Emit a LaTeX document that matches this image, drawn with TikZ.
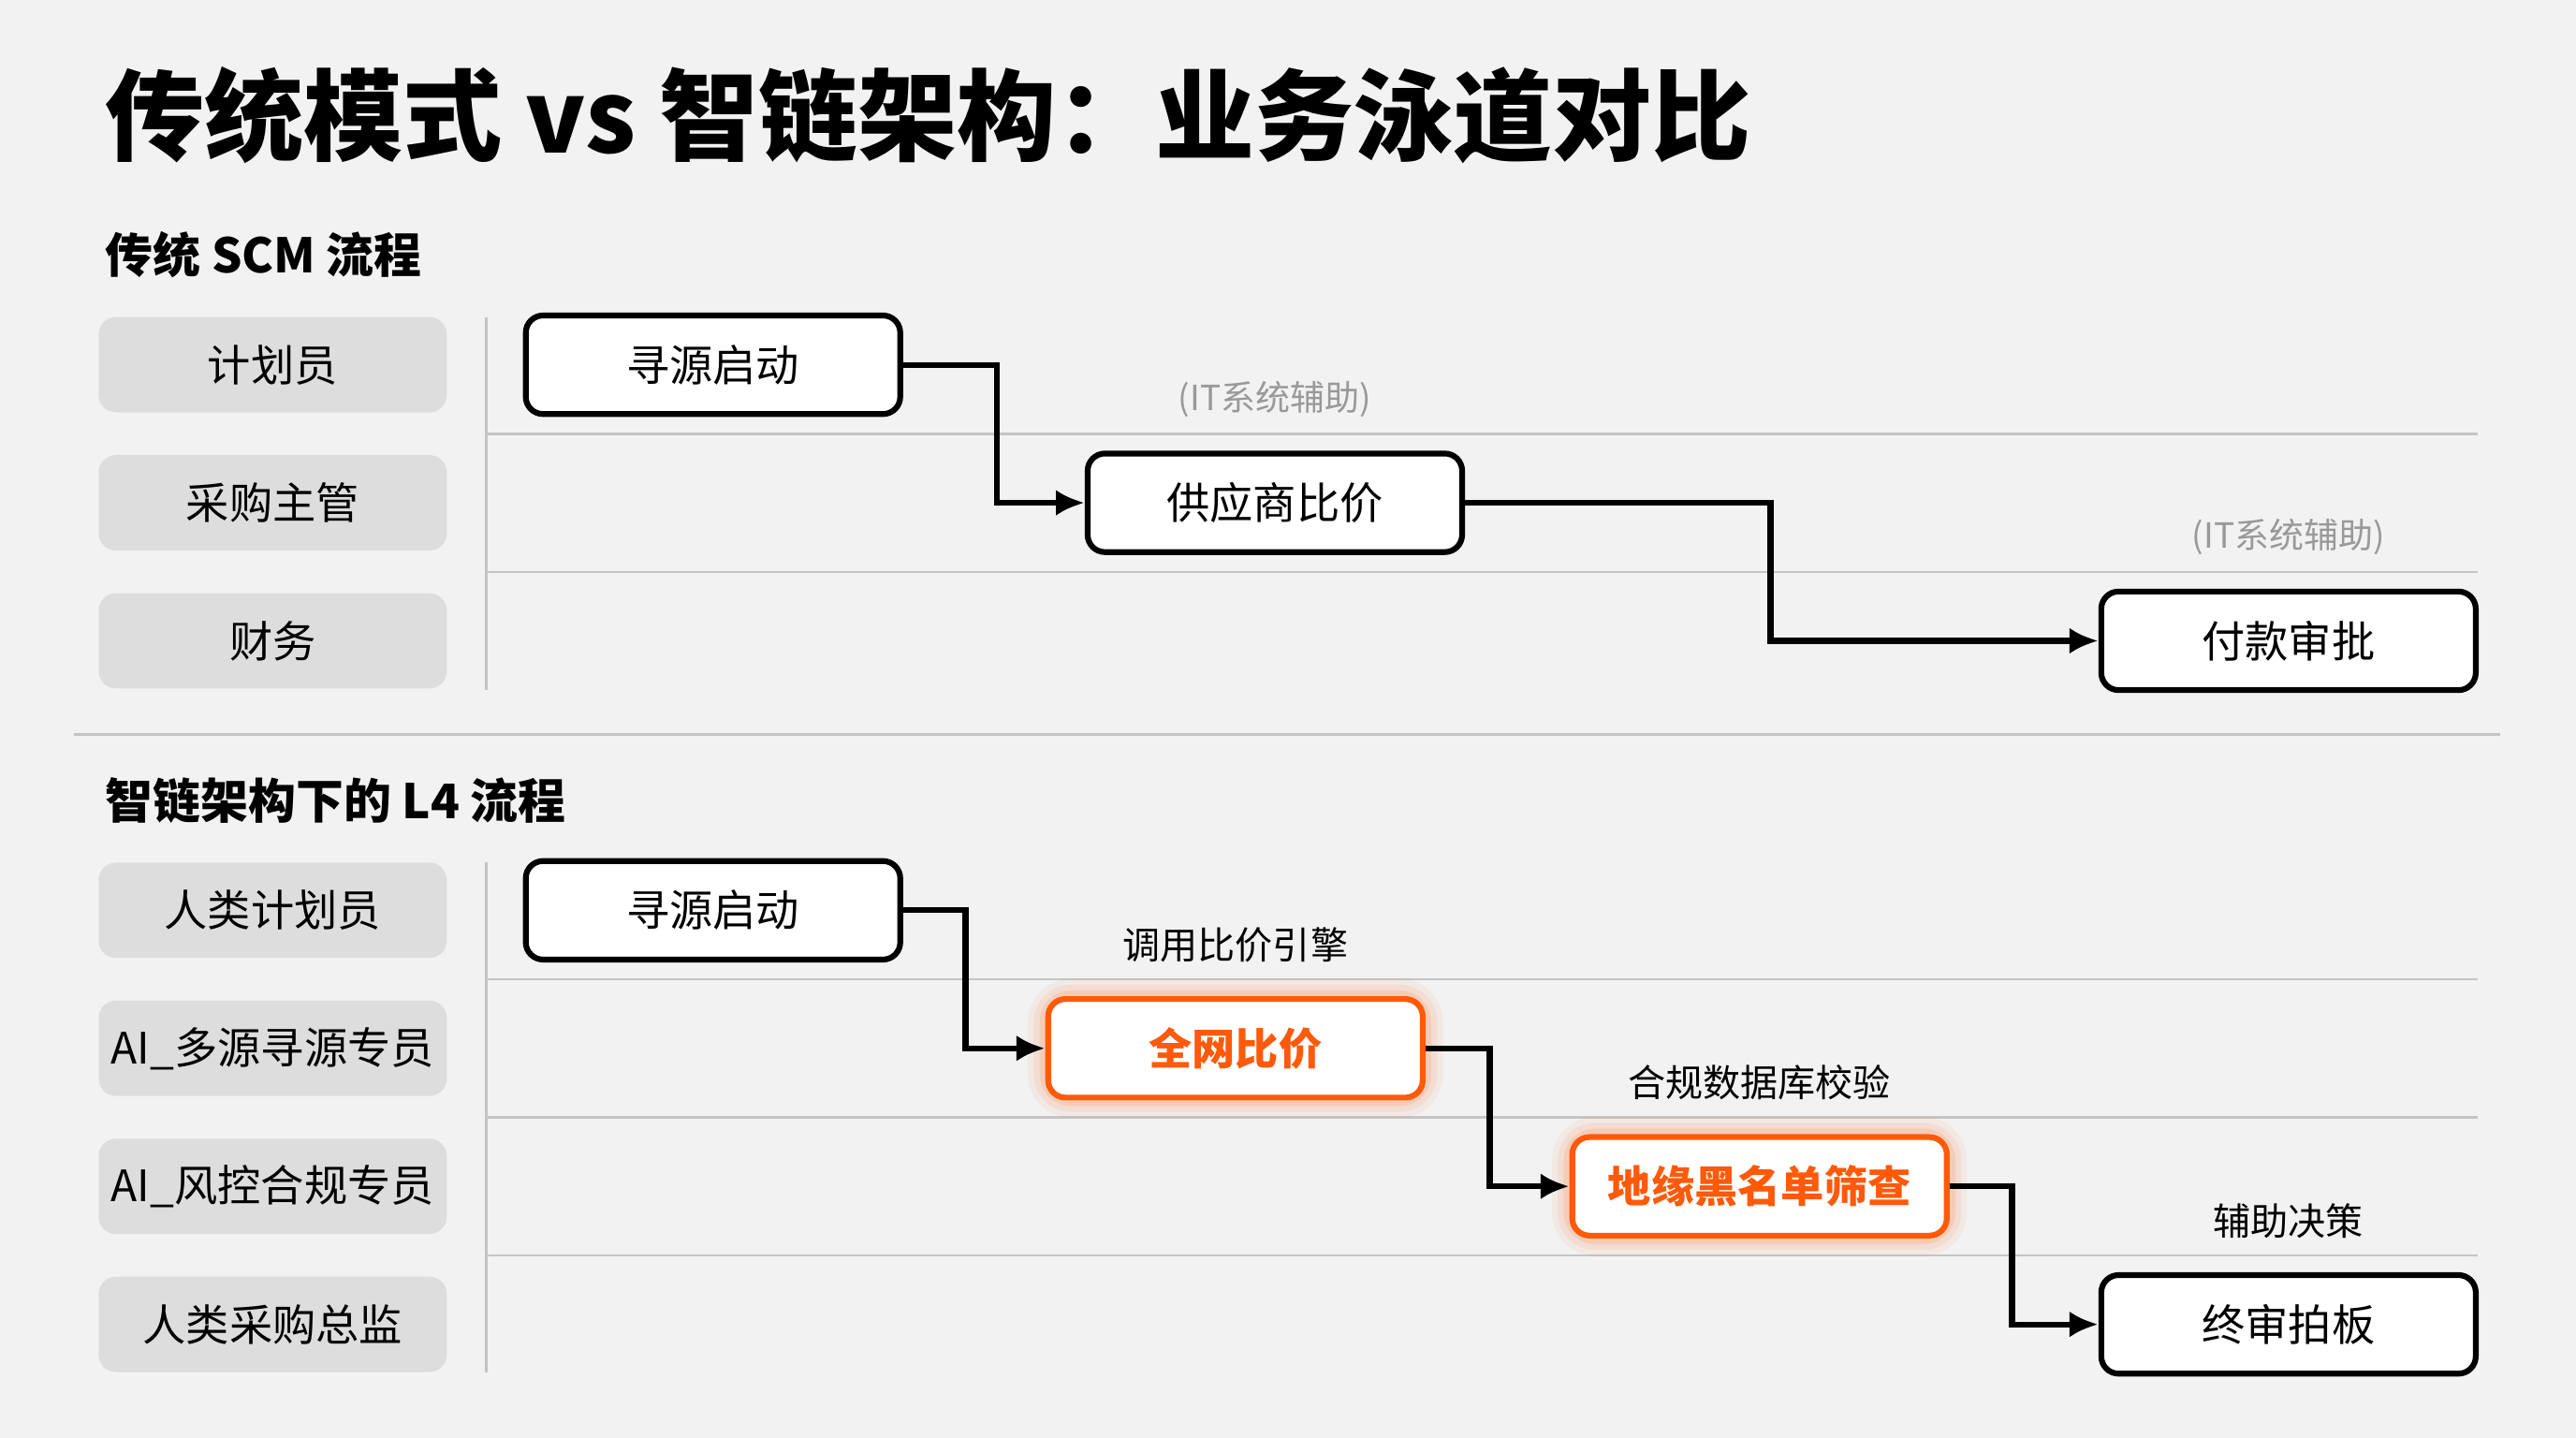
\documentclass[tikz,border=0pt]{standalone}
\usepackage{fontspec}
\setmainfont{Noto Sans CJK SC}
\usetikzlibrary{arrows.meta}
\definecolor{bg}{HTML}{F2F2F2}
\definecolor{lanefill}{HTML}{DDDDDD}
\definecolor{sep}{HTML}{C4C4C4}
\definecolor{hot}{HTML}{FF5A0A}
\tikzset{
  lane/.style={rounded corners=6pt,fill=lanefill,minimum width=4.24cm,minimum height=1.16cm,font=\fontsize{15}{18}\selectfont},
  task/.style={rounded corners=6pt,draw=black,line width=2pt,fill=white,minimum width=4.56cm,minimum height=1.2cm,font=\fontsize{15}{18}\selectfont},
  hottask/.style={task,draw=hot,text=hot,font=\fontsize{15}{18}\selectfont\bfseries},
  flow/.style={-{Latex[length=10pt,width=9pt]},line width=2pt},
  note/.style={font=\fontsize{12}{14}\selectfont,text=gray!80},
  tip/.style={font=\fontsize{13}{15}\selectfont},
  sect/.style={anchor=west,font=\fontsize{16.5}{20}\selectfont\bfseries},
  lsep/.style={sep,line width=0.8pt}
}
\begin{document}
\begin{tikzpicture}[x=0.02cm,y=-0.02cm]
	\fill[bg] (0,0) rectangle (1568,875);
	\node[anchor=west,font=\fontsize{34.4}{42}\selectfont\bfseries] (title) at (58,70) {传统模式 vs 智链架构：业务泳道对比};
	% traditional
	\node[sect] (s1) at (58,155) {传统 SCM 流程};
	\node[lane] (p1) at (166,222) {计划员};
	\node[lane] (p2) at (166,306) {采购主管};
	\node[lane] (p3) at (166,390) {财务};
	\draw[lsep] (296,193) -- (296,420);
	\draw[lsep] (296,264) -- (1508,264);
	\draw[lsep] (296,348) -- (1508,348);
	\node[task] (a1) at (434,222) {寻源启动};
	\node[task] (a2) at (776,306) {供应商比价};
	\node[task] (a3) at (1393,390) {付款审批};
	\node[note] (n1) at (776,243) {(IT系统辅助)};
	\node[note] (n2) at (1393,327) {(IT系统辅助)};
	\draw[flow] (a1.east) -- ++(57,0) |- (a2.west);
	\draw[flow] (a2.east) -- ++(186,0) |- (a3.west);
	\draw[lsep] (45,447) -- (1522,447);
	% L4
	\node[sect] (s2) at (58,487) {智链架构下的 L4 流程};
	\node[lane] (q1) at (166,554) {人类计划员};
	\node[lane] (q2) at (166,638) {AI\_多源寻源专员};
	\node[lane] (q3) at (166,722) {AI\_风控合规专员};
	\node[lane] (q4) at (166,806) {人类采购总监};
	\draw[lsep] (296,525) -- (296,835);
	\draw[lsep] (296,596) -- (1508,596);
	\draw[lsep] (296,680) -- (1508,680);
	\draw[lsep] (296,764) -- (1508,764);
	\foreach \cx/\cy in {752/638,1071/722}
		\foreach \w/\o in {14/0.06,10/0.08,6/0.12}
			\draw[hot,opacity=\o,line width=\w pt,rounded corners=8pt] (\cx-114,\cy-30) rectangle (\cx+114,\cy+30);
	\node[task] (b1) at (434,554) {寻源启动};
	\node[hottask] (b2) at (752,638) {全网比价};
	\node[hottask] (b3) at (1071,722) {地缘黑名单筛查};
	\node[task] (b4) at (1393,806) {终审拍板};
	\node[tip] (t1) at (752,575) {调用比价引擎};
	\node[tip] (t2) at (1071,659) {合规数据库校验};
	\node[tip] (t3) at (1393,743) {辅助决策};
	\draw[flow] (b1.east) -- ++(38,0) |- (b2.west);
	\draw[flow] (b2.east) -- ++(39,0) |- (b3.west);
	\draw[flow] (b3.east) -- ++(38,0) |- (b4.west);
\end{tikzpicture}
\end{document}
